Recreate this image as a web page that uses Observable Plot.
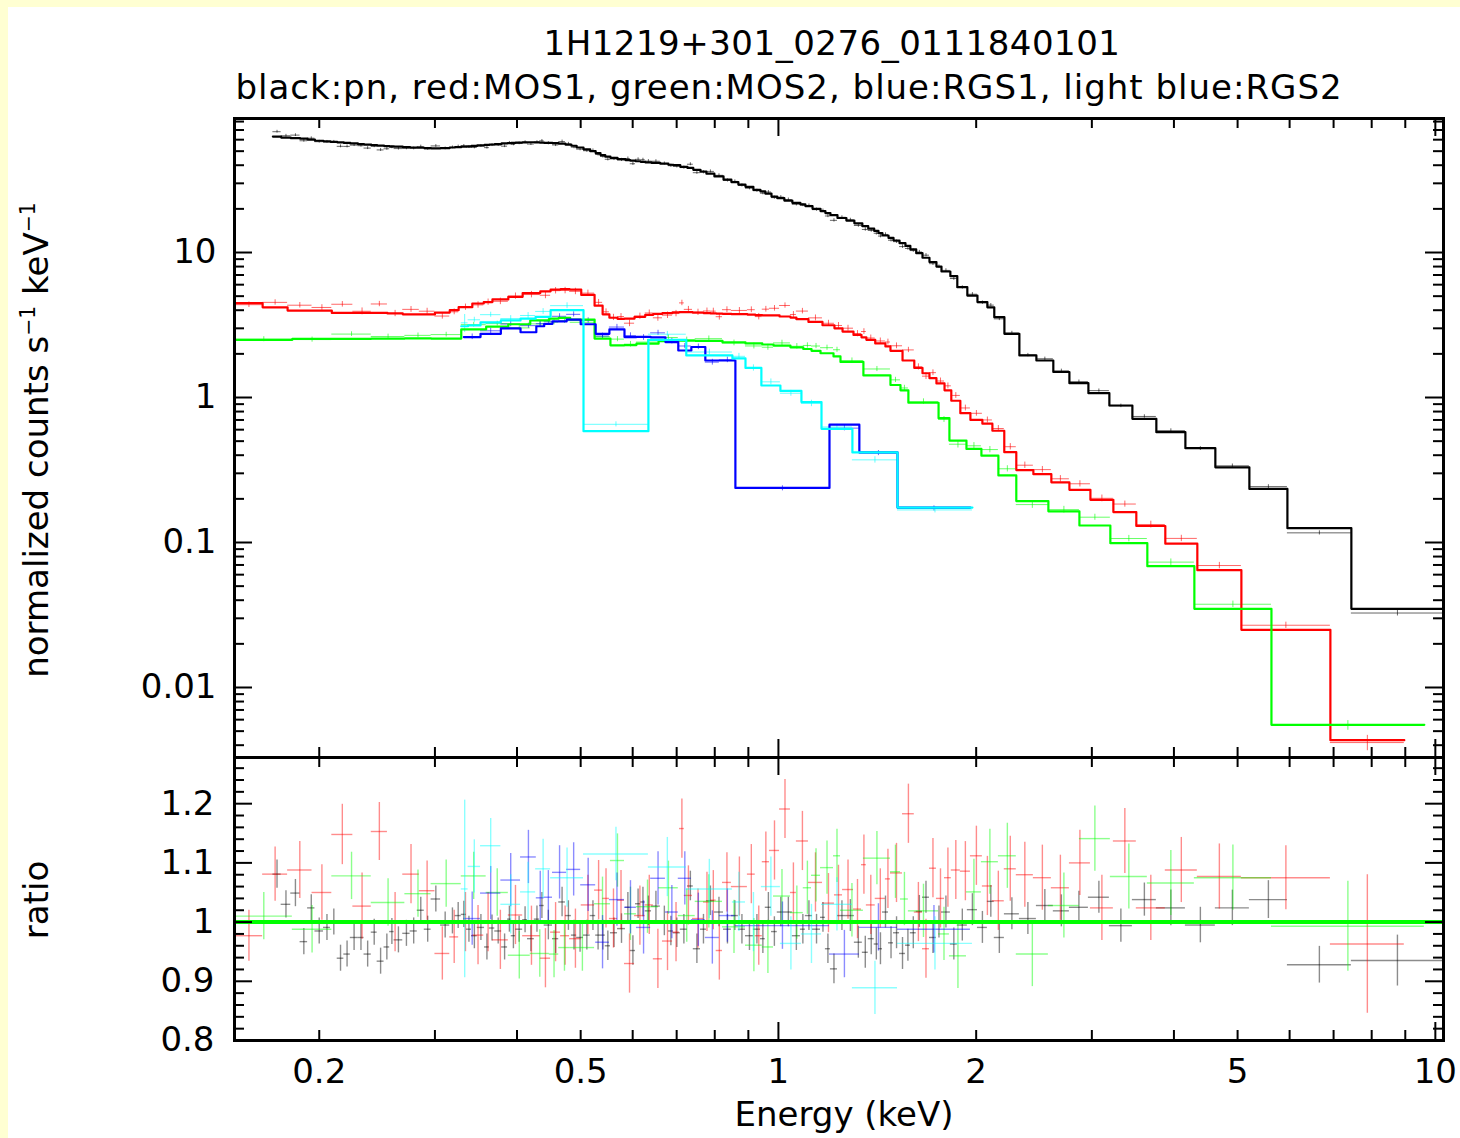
<!DOCTYPE html>
<html><head><meta charset="utf-8">
<script src="https://cdn.jsdelivr.net/npm/d3@7"></script>
<script src="https://cdn.jsdelivr.net/npm/@observablehq/plot@0.6"></script>
<style>
html,body{margin:0;padding:0;}
body{background:#ffffd2;width:1460px;height:1138px;overflow:hidden;position:relative;font-family:"DejaVu Sans",sans-serif;}
#sheet{position:absolute;left:8px;top:7px;width:1452px;height:1131px;background:#fff;overflow:hidden;}
.t{position:absolute;white-space:nowrap;font-size:34px;color:#000;line-height:1;}
.t sup{font-size:60%;vertical-align:0.65em;line-height:0;}
#top,#bot{position:absolute;left:0;}
#top{top:93px;} #bot{top:750px;}
</style></head><body>
<div id="sheet">
  <div class="t" style="left:824px;top:19px;transform:translateX(-50%);letter-spacing:0.5px">1H1219+301_0276_0111840101</div>
  <div class="t" style="left:781px;top:63px;transform:translateX(-50%);letter-spacing:1px">black:pn, red:MOS1, green:MOS2, blue:RGS1, light blue:RGS2</div>
  <div id="top"></div>
  <div id="bot"></div>
  <div class="t" style="left:28px;top:433px;transform:translate(-50%,-50%) rotate(-90deg)">normalized counts s<sup>−1</sup> keV<sup>−1</sup></div>
  <div class="t" style="left:28px;top:893px;transform:translate(-50%,-50%) rotate(-90deg)">ratio</div>
  <div class="t" style="left:836px;top:1090px;transform:translateX(-50%)">Energy (keV)</div>
</div>
<script>
// ---------- data: bin edges (keV), model (counts/s/keV), data/model ratio, ratio error ----------
const pnEdges=[0.170,0.175,0.181,0.187,0.192,0.197,0.203,0.208,0.213,0.218,
0.223,0.229,0.234,0.240,0.245,0.251,0.256,0.260,0.268,0.275,
0.282,0.289,0.296,0.306,0.316,0.322,0.329,0.335,0.341,0.348,
0.357,0.363,0.370,0.379,0.387,0.392,0.398,0.408,0.415,0.425,
0.433,0.440,0.453,0.463,0.474,0.484,0.493,0.505,0.517,0.527,
0.536,0.545,0.555,0.569,0.585,0.595,0.606,0.617,0.627,0.641,
0.661,0.680,0.692,0.709,0.727,0.742,0.761,0.777,0.799,0.825,
0.848,0.869,0.891,0.916,0.939,0.955,0.976,0.996,1.021,1.050,
1.080,1.099,1.127,1.159,1.179,1.200,1.230,1.269,1.305,1.342,
1.370,1.399,1.420,1.440,1.471,1.497,1.529,1.561,1.588,1.621,
1.657,1.698,1.740,1.771,1.827,1.872,1.939,2.009,2.080,2.131,
2.208,2.327,2.470,2.621,2.773,2.964,3.190,3.458,3.761,4.164,
4.625,5.211,5.954,7.450,10.29];
const pnModel=[63,62,61.5,61,60,59,58.5,58,57.5,57,
56.5,56,55.5,55,54.6,54.2,54,53.7,53.3,53,
52.8,52.5,52.3,52.5,53,53.3,53.7,54,54.3,54.8,
55.2,55.6,56,56.5,56.8,57,57.3,57.5,57.6,57.5,
57.3,57,56.8,56.3,55.5,54.5,53,51.5,50,48.5,
47,45.8,45,44,43.4,43,42.6,42.2,41.9,41.5,
41,40.3,40,39,38.3,37.2,36.2,35,33.5,31.8,
30.6,29.4,28.4,27,26.4,25.5,24.3,23.7,22.8,22.0,
21.5,20.9,20.0,19.3,18.7,18.1,17.3,16.6,15.9,15.2,
14.6,14.1,13.6,13.1,12.6,12.1,11.6,11.1,10.5,9.9,
9.2,8.6,8.0,7.4,6.87,5.77,5.05,4.55,4.19,3.58,
2.75,1.95,1.80,1.50,1.255,1.071,0.881,0.713,0.577,0.447,
0.330,0.234,0.1256,0.0349];
const pnRatio=[1.081,1.030,1.049,0.967,1.024,0.985,0.991,1.000,0.939,0.946,
0.974,0.974,0.946,0.983,0.934,0.958,0.984,0.970,0.981,0.985,
1.020,0.988,1.039,0.995,1.002,1.011,1.013,0.988,0.977,0.991,
0.958,0.990,0.985,0.958,1.005,0.977,0.988,1.004,0.972,1.005,
1.028,0.995,0.972,1.034,1.011,0.978,0.974,0.978,1.011,0.978,
0.978,0.960,0.982,0.989,1.025,0.952,1.031,1.034,1.019,1.027,
1.002,0.985,0.982,0.988,1.061,0.955,0.988,1.036,1.017,0.988,
1.011,0.988,0.977,0.988,0.972,1.025,0.984,1.017,1.017,0.977,
0.988,1.011,0.988,1.008,0.955,0.921,1.011,1.011,0.966,0.949,
0.972,0.963,0.955,1.017,0.965,0.982,0.947,0.961,0.982,1.018,
1.042,0.974,1.000,1.017,0.963,0.995,1.021,0.991,1.035,0.974,
1.014,1.006,1.028,1.019,1.025,1.042,0.994,1.038,1.024,0.995,
1.024,1.038,0.928,0.935];
const pnErr=[0.024,0.023,0.023,0.022,0.022,0.022,0.022,0.022,0.022,0.022,
0.022,0.022,0.022,0.022,0.022,0.022,0.022,0.022,0.022,0.022,
0.022,0.022,0.022,0.022,0.022,0.022,0.022,0.022,0.022,0.022,
0.022,0.022,0.022,0.022,0.022,0.022,0.022,0.022,0.022,0.022,
0.022,0.025,0.025,0.025,0.025,0.025,0.025,0.025,0.025,0.025,
0.025,0.025,0.025,0.025,0.025,0.025,0.025,0.025,0.025,0.025,
0.025,0.025,0.025,0.025,0.025,0.025,0.025,0.025,0.025,0.025,
0.025,0.025,0.025,0.025,0.025,0.025,0.025,0.025,0.025,0.025,
0.025,0.025,0.025,0.025,0.025,0.025,0.025,0.027,0.027,0.027,
0.027,0.027,0.027,0.027,0.027,0.027,0.027,0.027,0.027,0.027,
0.027,0.027,0.027,0.027,0.027,0.027,0.027,0.027,0.027,0.027,
0.027,0.027,0.027,0.027,0.027,0.027,0.028,0.028,0.030,0.030,
0.030,0.032,0.031,0.043];

const mos1Edges=[0.149,0.164,0.179,0.195,0.209,0.225,0.240,0.254,0.268,0.284,
0.300,0.316,0.326,0.342,0.356,0.367,0.388,0.408,0.434,0.450,
0.466,0.481,0.501,0.525,0.540,0.553,0.569,0.583,0.604,0.627,
0.645,0.666,0.690,0.707,0.719,0.740,0.769,0.788,0.804,0.822,
0.848,0.897,0.922,0.945,0.969,1.004,1.043,1.065,1.111,1.167,
1.217,1.252,1.301,1.338,1.361,1.404,1.455,1.481,1.545,1.610,
1.657,1.698,1.740,1.790,1.833,1.892,1.960,2.044,2.117,2.207,
2.302,2.444,2.603,2.773,2.985,3.235,3.506,3.881,4.342,5.067,
6.922,8.969];
const mos1Model=[4.47,4.19,3.98,3.98,3.83,3.83,3.83,3.80,3.75,3.74,
3.85,4.0,4.2,4.45,4.55,4.75,4.95,5.25,5.4,5.55,
5.6,5.55,5.1,4.3,3.75,3.55,3.49,3.5,3.6,3.72,
3.78,3.82,3.86,3.88,3.88,3.85,3.82,3.80,3.79,3.78,
3.76,3.73,3.70,3.69,3.68,3.62,3.56,3.47,3.32,3.15,
3.0,2.85,2.70,2.60,2.50,2.36,2.25,2.1,1.8,1.6,
1.47,1.36,1.25,1.12,0.95,0.78,0.70,0.66,0.59,0.42,
0.316,0.296,0.26,0.231,0.197,0.162,0.130,0.0981,0.0644,0.0250,
0.00433];
const mos1Ratio=[0.977,1.081,1.088,1.050,1.148,1.027,1.153,1.000,1.081,1.053,
0.947,0.975,1.000,0.978,1.000,0.970,1.012,0.977,0.939,0.983,
0.977,0.972,1.029,1.054,1.040,1.006,1.037,0.930,1.011,1.029,
0.938,0.968,0.983,1.158,1.045,1.006,1.034,1.037,0.952,1.067,
1.060,1.081,0.977,1.102,1.121,1.191,1.050,1.137,1.067,1.032,
1.046,1.055,1.022,1.097,1.029,1.040,1.073,1.083,1.183,1.017,
0.955,1.091,1.040,1.075,1.088,1.086,1.112,1.061,1.036,1.090,
1.080,1.075,1.058,1.100,1.024,1.137,1.024,1.088,1.077,1.075,
0.963];
const mos1Err=[0.043,0.046,0.048,0.047,0.051,0.056,0.049,0.050,0.050,0.050,
0.045,0.045,0.050,0.050,0.050,0.050,0.050,0.050,0.050,0.050,
0.050,0.050,0.050,0.050,0.050,0.050,0.050,0.050,0.050,0.050,
0.050,0.050,0.050,0.050,0.050,0.050,0.050,0.050,0.050,0.050,
0.050,0.050,0.050,0.050,0.050,0.050,0.050,0.050,0.050,0.050,
0.050,0.050,0.050,0.050,0.050,0.050,0.050,0.050,0.050,0.050,
0.050,0.050,0.050,0.050,0.050,0.050,0.050,0.050,0.050,0.055,
0.055,0.055,0.055,0.055,0.055,0.055,0.055,0.055,0.055,0.054,
0.117];

const mos2Edges=[0.149,0.182,0.209,0.240,0.270,0.296,0.329,0.359,0.388,0.419,
0.448,0.463,0.482,0.525,0.555,0.583,0.608,0.657,0.704,0.747,
0.822,0.891,0.945,0.983,1.043,1.091,1.123,1.159,1.213,1.243,
1.347,1.481,1.534,1.577,1.753,1.821,1.933,2.037,2.162,2.302,
2.576,2.872,3.201,3.644,4.297,5.630,9.621];
const mos2Model=[2.50,2.54,2.54,2.55,2.56,2.55,2.95,3.08,3.2,3.4,
3.5,3.54,3.45,2.55,2.29,2.3,2.35,2.45,2.47,2.46,
2.40,2.36,2.32,2.28,2.22,2.16,2.1,2.02,1.92,1.76,
1.42,1.22,1.12,0.92,0.72,0.505,0.442,0.397,0.290,0.193,
0.164,0.131,0.0989,0.0687,0.0349,0.00553];
const mos2Ratio=[1.010,0.988,1.078,1.033,1.048,1.065,1.078,1.050,0.944,0.947,
0.946,0.957,0.957,1.031,1.104,1.014,1.026,1.058,1.011,1.035,
0.992,0.961,0.958,1.044,1.016,1.058,1.079,1.092,1.112,1.020,
1.108,1.085,1.039,1.019,0.980,0.943,1.051,1.102,1.112,0.946,
1.028,1.141,1.077,1.066,1.075,0.993];
const mos2Err=[0.040,0.040,0.040,0.040,0.040,0.040,0.040,0.040,0.040,0.040,
0.040,0.040,0.040,0.045,0.045,0.045,0.045,0.045,0.045,0.045,
0.045,0.045,0.045,0.045,0.045,0.045,0.045,0.045,0.045,0.045,
0.045,0.045,0.045,0.045,0.045,0.055,0.055,0.055,0.055,0.055,
0.055,0.055,0.055,0.055,0.055,0.076];

const rgs1Edges=[0.332,0.352,0.378,0.405,0.428,0.440,0.453,0.476,0.500,0.527,
0.553,0.583,0.608,0.639,0.673,0.704,0.737,0.774,0.813,0.860,
1.196,1.328,1.518,1.960];
const rgs1Model=[2.61,2.75,3.0,2.82,3.1,3.22,3.35,3.44,3.2,2.75,
2.95,2.61,2.62,2.6,2.41,2.11,2.23,1.80,1.80,0.238,
0.65,0.418,0.174];
const rgs1Ratio=[1.006,1.049,1.071,1.110,1.041,1.042,1.084,1.089,1.063,0.966,
1.038,1.025,0.991,1.074,1.017,1.074,1.004,0.974,1.011,0.994,
0.946,0.991,0.988];
const rgs1Err=[0.045,0.045,0.045,0.045,0.045,0.045,0.045,0.045,0.045,0.045,
0.045,0.045,0.045,0.045,0.045,0.045,0.045,0.045,0.045,0.040,
0.040,0.040,0.040];

const rgs2Edges=[0.329,0.337,0.352,0.378,0.405,0.427,0.450,0.505,0.634,0.724,
0.851,0.891,0.942,1.007,1.084,1.163,1.296,1.518,1.974];
const rgs2Model=[3.1,3.14,3.3,3.4,3.5,3.6,4.0,0.586,2.5,1.95,
1.86,1.60,1.21,1.11,0.93,0.608,0.418,0.174];
const rgs2Ratio=[1.056,1.094,1.129,1.030,1.051,1.090,1.075,1.115,1.093,1.056,
1.034,1.000,1.060,0.964,0.980,1.030,0.889,0.964];
const rgs2Err=[0.150,0.045,0.046,0.050,0.050,0.050,0.050,0.045,0.050,0.050,
0.050,0.050,0.050,0.045,0.050,0.045,0.045,0.045];

const instruments=["pn","MOS1","MOS2","RGS1","RGS2"];
const colors=["#000000","#ff0000","#00ff00","#0000ff","#00ffff"];

const xDomain=[0.1486,10.29];
const yTopDomain=[0.00329,84];
const yRatioDomain=[0.8,1.278];
const xLabelTicks=[0.2,0.5,1,2,5,10];
const yTopLabelTicks=[0.01,0.1,1,10];
const yRatioLabelTicks=[0.8,0.9,1,1.1,1.2];

// ---------- build ----------
const sets=[
  {edges:pnEdges,model:pnModel,ratio:pnRatio,err:pnErr},
  {edges:mos1Edges,model:mos1Model,ratio:mos1Ratio,err:mos1Err},
  {edges:mos2Edges,model:mos2Model,ratio:mos2Ratio,err:mos2Err},
  {edges:rgs1Edges,model:rgs1Model,ratio:rgs1Ratio,err:rgs1Err},
  {edges:rgs2Edges,model:rgs2Model,ratio:rgs2Ratio,err:rgs2Err}
].map((s,i)=>({...s,name:instruments[i],color:colors[i]}));

function binsOf(s){return s.model.map((m,i)=>({lo:s.edges[i],hi:s.edges[i+1],c:Math.sqrt(s.edges[i]*s.edges[i+1]),m,r:s.ratio[i],e:s.err[i]}));}
function stepOf(s){return s.edges.map((e,i)=>({x:e,y:s.model[Math.min(i,s.model.length-1)]}));}

const W=1209, HT=639, HB=283;
const isDecade=v=>Math.abs(Math.log10(v)-Math.round(Math.log10(v)))<1e-9;
const xAll=d3.scaleLog().domain(xDomain).ticks().filter(v=>v>=xDomain[0]&&v<=xDomain[1]);
const xMajor=xAll.filter(isDecade), xMinor=xAll.filter(v=>!isDecade(v));
const yAll=d3.scaleLog().domain(yTopDomain).ticks().filter(v=>v>=yTopDomain[0]&&v<=yTopDomain[1]);
const yMajor=yAll.filter(isDecade), yMinor=yAll.filter(v=>!isDecade(v));
const rAll=d3.range(40,65).map(k=>k/50).filter(v=>v<=yRatioDomain[1]+1e-9);
const rMajor=rAll.filter(v=>Math.abs(v*10-Math.round(v*10))<1e-9), rMinor=rAll.filter(v=>Math.abs(v*10-Math.round(v*10))>=1e-9);

const fmt=d3.format("~g");
const tk={stroke:"#000",strokeWidth:2};
function tickMarks(H, yMaj, yMin){
  return [
    Plot.ruleY(yMin,{...tk,insetRight:W-10}), Plot.ruleY(yMaj,{...tk,insetRight:W-18}),
    Plot.ruleY(yMin,{...tk,insetLeft:W-10}), Plot.ruleY(yMaj,{...tk,insetLeft:W-18}),
    Plot.ruleX(xMinor,{...tk,insetTop:H-10}), Plot.ruleX(xMajor,{...tk,insetTop:H-18}),
    Plot.ruleX(xMinor,{...tk,insetBottom:H-10}), Plot.ruleX(xMajor,{...tk,insetBottom:H-18})
  ];
}
const style={background:"transparent",fontFamily:"DejaVu Sans",fontSize:"34px",color:"#000",overflow:"visible"};

const topPlot=Plot.plot({
  width:1452,height:657,marginLeft:226,marginRight:17,marginTop:18,marginBottom:0,style,
  x:{type:"log",domain:xDomain,axis:null,label:null},
  y:{type:"log",domain:yTopDomain,label:null},
  marks:[
    ...sets.flatMap(s=>{const b=binsOf(s);return [
      Plot.ruleY(b,{x1:"lo",x2:"hi",y:d=>d.m*d.r,stroke:s.color,strokeWidth:1,strokeOpacity:0.6,clip:true}),
      Plot.ruleX(b,{x:"c",y1:d=>d.m*(d.r-d.e),y2:d=>d.m*(d.r+d.e),stroke:s.color,strokeWidth:1,strokeOpacity:0.6,clip:true})
    ];}),
    ...sets.map(s=>Plot.line(stepOf(s),{x:"x",y:"y",curve:"step-after",stroke:s.color,strokeWidth:2.2,clip:true})),
    ...tickMarks(HT,yMajor,yMinor),
    Plot.frame({stroke:"#000",strokeWidth:3}),
    Plot.axisY({ticks:yTopLabelTicks,tickFormat:fmt,tickSize:0,tickPadding:18,fontSize:34,label:null})
  ]
});
document.getElementById("top").appendChild(topPlot);

const botPlot=Plot.plot({
  width:1452,height:381,marginLeft:226,marginRight:17,marginTop:0,marginBottom:98,style,
  x:{type:"log",domain:xDomain,label:null},
  y:{domain:yRatioDomain,label:null},
  marks:[
    ...sets.flatMap(s=>{const b=binsOf(s);return [
      Plot.ruleY(b,{x1:"lo",x2:"hi",y:"r",stroke:s.color,strokeWidth:1.4,strokeOpacity:0.45,clip:true}),
      Plot.ruleX(b,{x:"c",y1:d=>d.r-d.e,y2:d=>d.r+d.e,stroke:s.color,strokeWidth:1.4,strokeOpacity:0.45,clip:true})
    ];}),
    Plot.ruleY([1],{stroke:"#00ff00",strokeWidth:4}),
    ...tickMarks(HB,rMajor,rMinor),
    Plot.frame({stroke:"#000",strokeWidth:3}),
    Plot.axisY({ticks:yRatioLabelTicks,tickFormat:fmt,tickSize:0,tickPadding:20,fontSize:34,label:null}),
    Plot.axisX({ticks:xLabelTicks,tickFormat:fmt,tickSize:0,tickPadding:18,fontSize:34,label:null})
  ]
});
document.getElementById("bot").appendChild(botPlot);
</script>
</body></html>
